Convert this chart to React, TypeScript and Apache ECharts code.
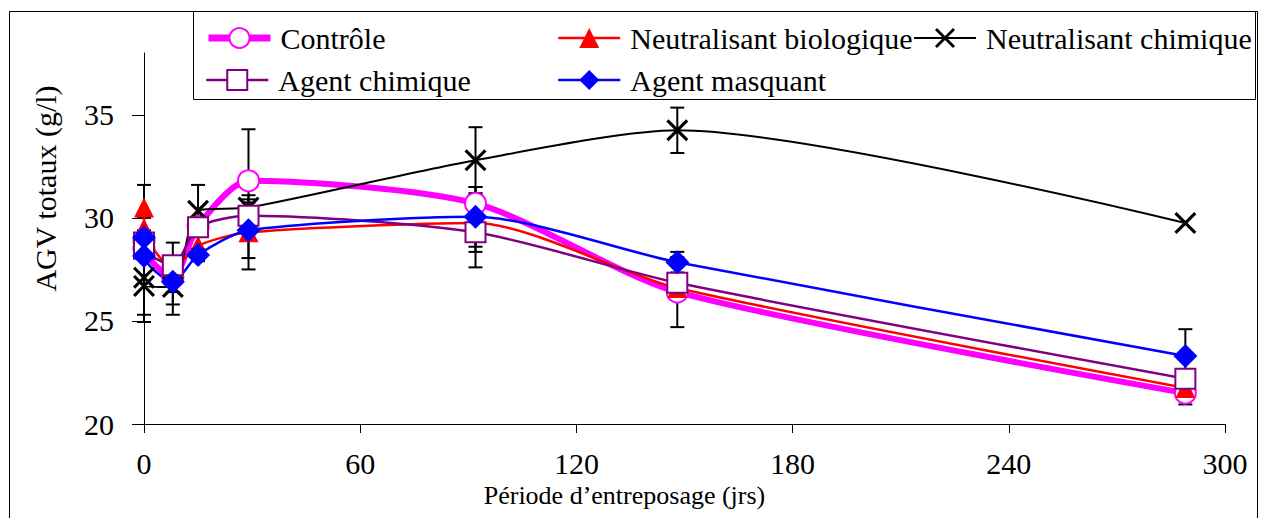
import React, { useEffect, useRef } from 'react';
import * as echarts from 'echarts';

// Storage days (two measurements at day 0)
const days = [0, 0, 8, 15, 29, 92, 148, 289];

const seriesNames = [
  'Contrôle',
  'Neutralisant biologique',
  'Neutralisant chimique',
  'Agent chimique',
  'Agent masquant',
];

// Total VFA (g/l)
const controle = [28.9, 28.5, 27.1, 29.6, 31.8, 30.7, 26.4, 21.5];
const neutroBio = [30.5, 29.5, 27.6, 28.65, 29.3, 29.75, 26.6, 21.75];
const neutroChim = [27.1, 26.7, 26.65, 30.35, 30.5, 32.8, 34.25, 29.75];
const agentChim = [28.8, 28.5, 27.7, 29.55, 30.1, 29.3, 26.85, 22.2];
const agentMasq = [29.05, 28.15, 26.9, 28.2, 29.4, 30.05, 27.85, 23.3];

// Error amounts (±), 0 = no bar
const errControle = [0, 0, 0, 0, 2.5, 0.8, 1.7, 0.55];
const errNeutroBio = [1.1, 0, 1.2, 0.65, 1.8, 1.4, 0, 0];
const errNeutroChim = [1.8, 1.75, 1.35, 1.25, 0.4, 1.6, 1.1, 0];
const errAgentChim = [0, 0, 0, 0, 0, 1.7, 0, 0.4];
const errAgentMasq = [0.95, 0, 1.1, 0.3, 1.35, 1.45, 0.5, 1.3];

const xTicks = [0, 60, 120, 180, 240, 300];
const yTicks = [20, 25, 30, 35];

const FONT = '"Liberation Serif", "Times New Roman", serif';

const seriesValues = [controle, neutroBio, neutroChim, agentChim, agentMasq];
const seriesErrors = [errControle, errNeutroBio, errNeutroChim, errAgentChim, errAgentMasq];
const colors = ['#FF00FF', '#FF0000', '#000000', '#800080', '#0000FF'];
const lineWidths = [6, 2.5, 2, 2.5, 2.5];
const X_PATH = 'path://M0,2L2,0L10,8L18,0L20,2L12,10L20,18L18,20L10,12L2,20L0,18L8,10Z';
const symbols = ['emptyCircle', 'triangle', X_PATH, 'emptyRect', 'diamond'];
const symbolSizes = [21, 20, 22, 20, 24];

const legendPos = [
  { left: 205, top: 23 },
  { left: 557, top: 23 },
  { left: 913, top: 23 },
  { left: 205, top: 65 },
  { left: 557, top: 65 },
];

export default function App() {
  const ref = useRef<HTMLDivElement>(null);

  useEffect(() => {
    if (!ref.current) return;
    const chart = echarts.init(ref.current, null, { renderer: 'svg' });

    const series: any[] = [];
    seriesNames.forEach((name, si) => {
      const vals = seriesValues[si];
      const errs = seriesErrors[si];
      series.push({
        name,
        type: 'line',
        data: days.map((d, i) => [d, vals[i]]),
        smooth: 0.25,
        symbol: symbols[si],
        symbolSize: symbolSizes[si],
        lineStyle: { color: colors[si], width: lineWidths[si] },
        itemStyle: {
          color: colors[si],
          borderColor: colors[si],
          borderWidth: si === 0 || si === 3 ? 2.5 : 0,
        },
        z: 2,
      });
      series.push({
        name: 'err-' + name,
        type: 'custom',
        silent: true,
        encode: { x: 0, y: [1, 2] },
        data: days
          .map((d, i) => (errs[i] > 0 ? [d, vals[i] - errs[i], vals[i] + errs[i]] : null))
          .filter((v) => v !== null),
        renderItem: (params: any, api: any) => {
          const x = api.value(0);
          const pLo = api.coord([x, api.value(1)]);
          const pHi = api.coord([x, api.value(2)]);
          const w = 7;
          const style = { stroke: '#000', lineWidth: 2 };
          return {
            type: 'group',
            children: [
              { type: 'line', shape: { x1: pLo[0], y1: pLo[1], x2: pHi[0], y2: pHi[1] }, style },
              { type: 'line', shape: { x1: pLo[0] - w, y1: pLo[1], x2: pLo[0] + w, y2: pLo[1] }, style },
              { type: 'line', shape: { x1: pHi[0] - w, y1: pHi[1], x2: pHi[0] + w, y2: pHi[1] }, style },
            ],
          };
        },
        z: 2,
      });
    });

    const option: any = {
      animation: false,
      backgroundColor: '#fff',
      textStyle: { fontFamily: FONT },
      grid: { left: 144, right: 44, top: 53, bottom: 94, outerBoundsMode: 'none' },
      legend: seriesNames.map((name, i) => ({
        data: [name],
        left: legendPos[i].left,
        top: legendPos[i].top,
        padding: 0,
        itemWidth: 62,
        itemHeight: 25,
        selectedMode: false,
        lineStyle: { width: i === 0 ? 7 : lineWidths[i] },
        textStyle: {
          fontFamily: FONT,
          fontSize: 30,
          color: '#000',
          lineHeight: 30,
          padding: [0, 0, 0, 5],
        },
      })),
      xAxis: {
        type: 'value',
        min: 0,
        max: 300,
        interval: 60,
        name: 'Période d’entreposage (jrs)',
        nameLocation: 'middle',
        nameGap: 58,
        nameTextStyle: { fontFamily: FONT, fontSize: 26, color: '#000', padding: [0, 120, 0, 0] },
        axisLine: { show: true, onZero: false, lineStyle: { color: '#000', width: 1 } },
        axisTick: { show: true, inside: false, length: 9, lineStyle: { color: '#000' } },
        axisLabel: {
          fontFamily: FONT,
          fontSize: 30,
          color: '#000',
          margin: 24,
          customValues: xTicks,
        },
        splitLine: { show: false },
      },
      yAxis: {
        type: 'value',
        min: 20,
        max: 38,
        interval: 5,
        name: 'AGV totaux (g/l)',
        nameLocation: 'middle',
        nameGap: 84,
        nameTextStyle: { fontFamily: FONT, fontSize: 30, color: '#000', padding: [0, 0, 0, 100] },
        axisLine: { show: true, lineStyle: { color: '#000', width: 1 } },
        axisTick: { show: true, inside: false, length: 12, lineStyle: { color: '#000' }, customValues: yTicks },
        axisLabel: {
          fontFamily: FONT,
          fontSize: 30,
          color: '#000',
          margin: 30,
          customValues: yTicks,
        },
        splitLine: { show: false },
      },
      graphic: [
        {
          type: 'rect',
          shape: { x: 9.5, y: 11.5, width: 1248, height: 520 },
          style: { fill: 'none', stroke: '#000', lineWidth: 1 },
          silent: true,
          z: -10,
        },
        {
          type: 'rect',
          shape: { x: 193.5, y: 11.5, width: 1062, height: 88 },
          style: { fill: '#fff', stroke: '#000', lineWidth: 1 },
          silent: true,
          z: -5,
        },
      ],
      series,
    };

    chart.setOption(option);
    return () => chart.dispose();
  }, []);

  return (
    <div
      ref={ref}
      style={{ position: 'fixed', left: 0, top: 0, width: 1269, height: 518 }}
    />
  );
}
